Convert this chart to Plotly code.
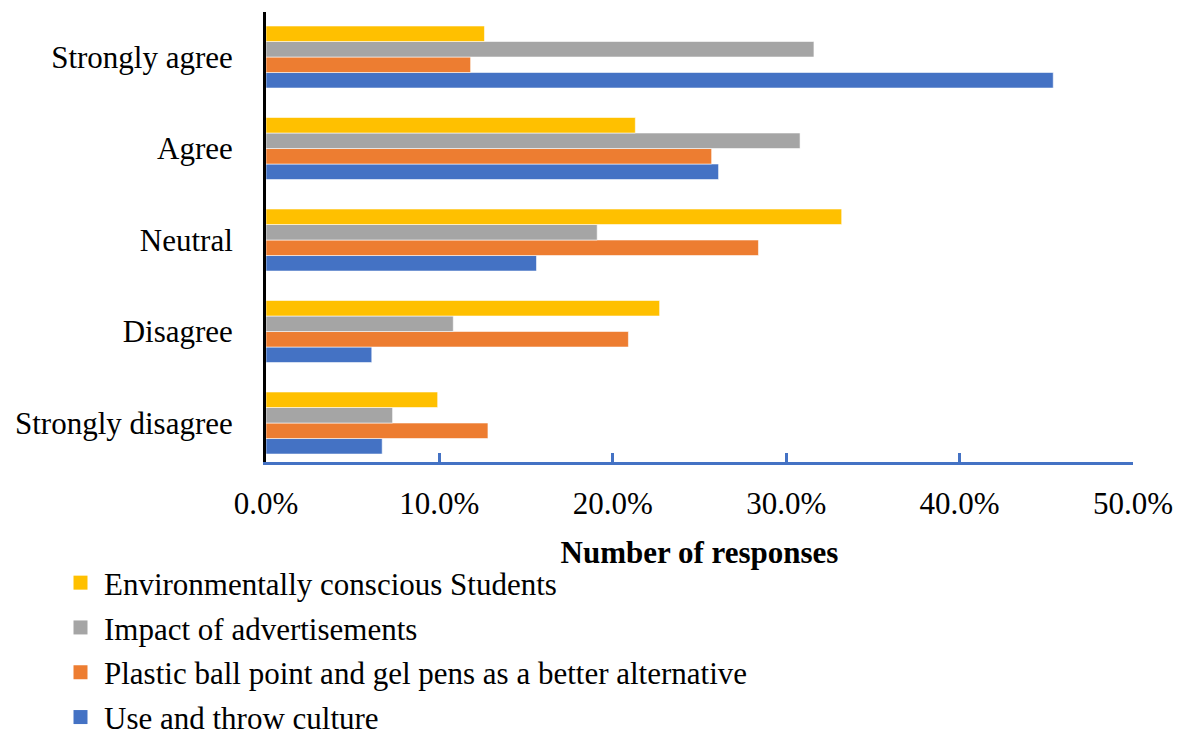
import plotly.graph_objects as go

categories = ["Strongly disagree", "Disagree", "Neutral", "Agree", "Strongly agree"]

use_and_throw = [6.7, 6.1, 15.6, 26.1, 45.4]
plastic_pens = [12.8, 20.9, 28.4, 25.7, 11.8]
advertisements = [7.3, 10.8, 19.1, 30.8, 31.6]
env_students = [9.9, 22.7, 33.2, 21.3, 12.6]

series_names = [
    "Use and throw culture",
    "Plastic ball point and gel pens as a better alternative",
    "Impact of advertisements",
    "Environmentally conscious Students",
]
series_values = [use_and_throw, plastic_pens, advertisements, env_students]
colors = ["#4472C4", "#ED7D31", "#A5A5A5", "#FFC000"]

FONT = "Liberation Serif"

fig = go.Figure()
for name, vals, col in zip(series_names, series_values, colors):
    fig.add_trace(go.Bar(
        y=categories,
        x=[v / 100 for v in vals],
        name=name,
        orientation="h",
        marker=dict(color=col, line=dict(color="rgba(255,255,255,0.7)", width=0.8)),
        showlegend=False,
    ))
# legend entries (top to bottom: yellow, gray, orange, blue) with larger square swatches
for name, col in zip(series_names[::-1], colors[::-1]):
    fig.add_trace(go.Scatter(
        x=[None], y=[None], mode="markers", name=name,
        marker=dict(symbol="square", size=14, color=col),
        legendgroup=name, showlegend=True, hoverinfo="skip",
    ))

fig.update_layout(
    width=1181, height=731,
    margin=dict(l=266, r=48, t=12, b=269, autoexpand=False),
    paper_bgcolor="white", plot_bgcolor="white",
    barmode="group", bargap=0.322, bargroupgap=0,
    font=dict(family=FONT, size=31, color="black"),
    showlegend=True,
    legend=dict(
        traceorder="grouped",
        orientation="v",
        xref="container", yref="container",
        x=57 / 1181, y=1 - 556 / 731,
        xanchor="left", yanchor="top",
        font=dict(family=FONT, size=31, color="black"),
        itemwidth=37,
        tracegroupgap=1.5,
        bgcolor="rgba(0,0,0,0)",
    ),
    xaxis=dict(
        range=[0, 0.5], dtick=0.1, tick0=0,
        tickformat=".1%",
        showgrid=False, zeroline=False,
        showline=True, linecolor="#4472C4", linewidth=2.5,
        ticks="inside", ticklen=9, tickwidth=2.5, tickcolor="#4472C4",
        ticklabelstandoff=12, automargin=False, tickangle=0,
        title=dict(text="<b>Number of responses</b>", standoff=22,
                   font=dict(family=FONT, size=31, color="black")),
    ),
    yaxis=dict(
        categoryorder="array", categoryarray=categories,
        range=[-0.426, 4.492],
        showgrid=False, zeroline=False,
        showline=True, linecolor="black", linewidth=3,
        ticks="", ticklabelstandoff=24, automargin=False,
    ),
)

fig.write_html("out.html")
